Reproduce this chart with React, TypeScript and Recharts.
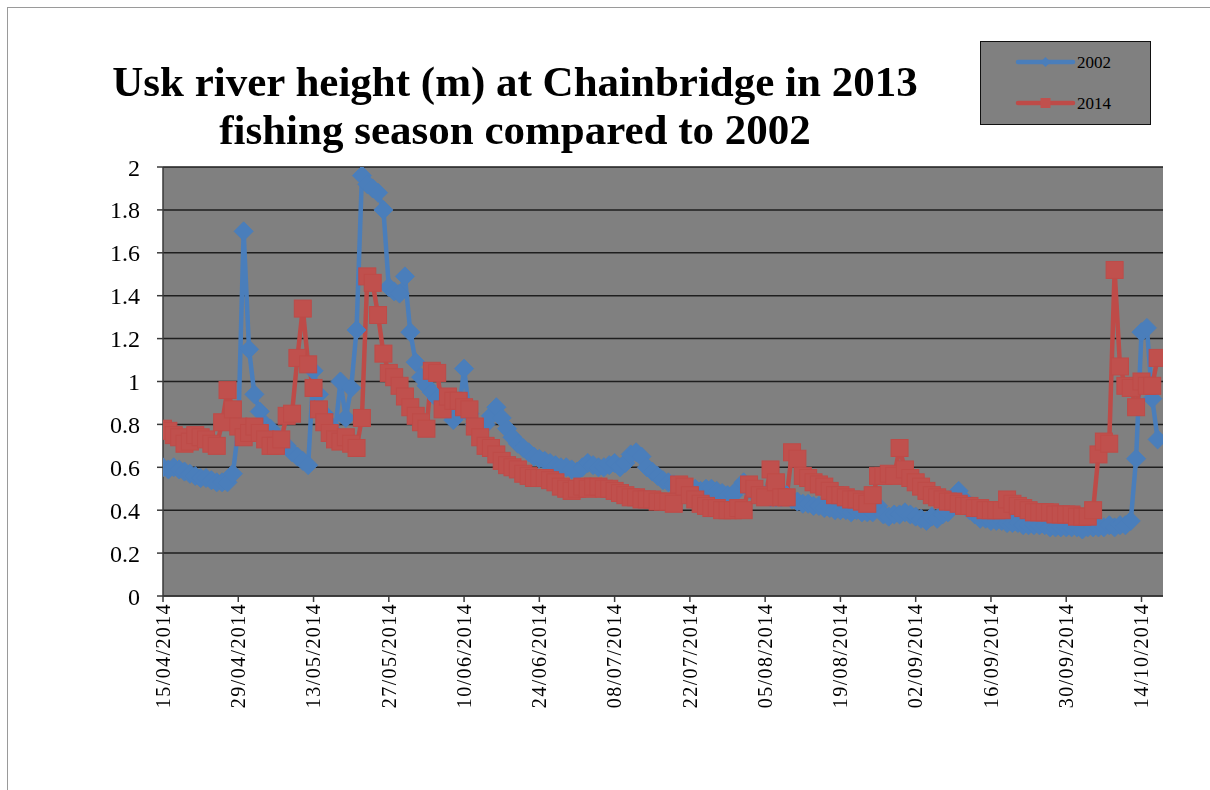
import React from 'react';
import { LineChart, Line, XAxis, YAxis, CartesianGrid } from 'recharts';

const series2002 = [
  0.60, 0.59, 0.60, 0.59, 0.58, 0.57, 0.56, 0.55, 0.55, 0.54,
  0.53, 0.53, 0.53, 0.57, 0.78, 1.70, 1.15, 0.94, 0.86, 0.80,
  0.78, 0.75, 0.72, 0.70, 0.67, 0.65, 0.63, 0.61, 1.05, 0.94,
  0.85, 0.80, 0.76, 1.00, 0.83, 0.97, 1.24, 1.96, 1.92, 1.90,
  1.88, 1.80, 1.44, 1.42, 1.41, 1.49, 1.23, 1.09, 1.02, 0.98,
  0.95, 0.92, 0.90, 0.86, 0.82, 0.85, 1.06, 0.85, 0.80, 0.78,
  0.80, 0.84, 0.88, 0.83, 0.78, 0.74, 0.71, 0.69, 0.67, 0.65,
  0.64, 0.63, 0.62, 0.61, 0.60, 0.60, 0.59, 0.58, 0.60, 0.62,
  0.61, 0.60, 0.60, 0.61, 0.62, 0.60, 0.62, 0.66, 0.67, 0.65,
  0.60, 0.58, 0.56, 0.54, 0.53, 0.52, 0.51, 0.50, 0.50, 0.50,
  0.49, 0.50, 0.50, 0.49, 0.48, 0.47, 0.47, 0.50, 0.53, 0.50,
  0.48, 0.47, 0.47, 0.46, 0.46, 0.46, 0.47, 0.45, 0.44, 0.43,
  0.43, 0.42, 0.42, 0.41, 0.41, 0.40, 0.40, 0.40, 0.39, 0.40,
  0.39, 0.39, 0.39, 0.42, 0.38, 0.37, 0.38, 0.38, 0.39, 0.38,
  0.37, 0.36, 0.35, 0.37, 0.36, 0.38, 0.39, 0.43, 0.49, 0.45,
  0.40, 0.38, 0.36, 0.36, 0.35, 0.35, 0.35, 0.34, 0.34, 0.34,
  0.33, 0.33, 0.33, 0.33, 0.33, 0.32, 0.32, 0.32, 0.32, 0.32,
  0.32, 0.31, 0.32, 0.32, 0.32, 0.32, 0.33, 0.32, 0.33, 0.33,
  0.35, 0.64, 1.23, 1.25, 0.92, 0.73,
];

const series2014 = [
  0.78, 0.77, 0.75, 0.74, 0.71, 0.72, 0.75, 0.74, 0.73, 0.71,
  0.70, 0.81, 0.96, 0.87, 0.79, 0.74, 0.76, 0.79, 0.76, 0.73,
  0.70, 0.70, 0.73, 0.84, 0.85, 1.11, 1.34, 1.08, 0.97, 0.87,
  0.81, 0.76, 0.73, 0.72, 0.74, 0.71, 0.69, 0.83, 1.49, 1.46,
  1.31, 1.13, 1.04, 1.02, 0.98, 0.93, 0.88, 0.84, 0.81, 0.78,
  1.05, 1.04, 0.87, 0.93, 0.91, 0.91, 0.88, 0.87, 0.79, 0.74,
  0.70, 0.69, 0.66, 0.63, 0.61, 0.60, 0.59, 0.57, 0.56, 0.55,
  0.55, 0.55, 0.54, 0.53, 0.51, 0.50, 0.49, 0.50, 0.51, 0.50,
  0.51, 0.51, 0.50, 0.50, 0.49, 0.48, 0.47, 0.46, 0.46, 0.45,
  0.45, 0.45, 0.44, 0.44, 0.44, 0.43, 0.52, 0.51, 0.47, 0.45,
  0.43, 0.42, 0.41, 0.41, 0.40, 0.40, 0.40, 0.41, 0.40, 0.52,
  0.50, 0.47, 0.46, 0.59, 0.53, 0.46, 0.46, 0.67, 0.64, 0.56,
  0.55, 0.53, 0.52, 0.51, 0.49, 0.47, 0.47, 0.46, 0.45, 0.45,
  0.44, 0.43, 0.47, 0.56, 0.56, 0.57, 0.56, 0.69, 0.59, 0.55,
  0.53, 0.51, 0.49, 0.47, 0.46, 0.45, 0.44, 0.44, 0.43, 0.42,
  0.42, 0.41, 0.41, 0.40, 0.40, 0.40, 0.40, 0.45, 0.43, 0.42,
  0.41, 0.40, 0.39, 0.39, 0.39, 0.39, 0.38, 0.38, 0.38, 0.38,
  0.37, 0.37, 0.37, 0.40, 0.66, 0.72, 0.71, 1.52, 1.07, 0.98,
  0.97, 0.88, 1.00, 0.98, 0.98, 1.11,
];

const xTickDays = [0, 14, 28, 42, 56, 70, 84, 98, 112, 126, 140, 154, 168, 182];
const xTickLabels = [
  '15/04/2014', '29/04/2014', '13/05/2014', '27/05/2014', '10/06/2014',
  '24/06/2014', '08/07/2014', '22/07/2014', '05/08/2014', '19/08/2014',
  '02/09/2014', '16/09/2014', '30/09/2014', '14/10/2014',
];
const yTickValues = [0, 0.2, 0.4, 0.6, 0.8, 1, 1.2, 1.4, 1.6, 1.8, 2];
const yTickLabels = ['0', '0.2', '0.4', '0.6', '0.8', '1', '1.2', '1.4', '1.6', '1.8', '2'];
const titleLines = ['Usk river height (m) at Chainbridge in 2013', 'fishing season compared to 2002'];
const seriesNames = ['2002', '2014'];

const data = series2002.map((v, i) => ({ day: i, y2002: v, y2014: series2014[i] }));

const BLUE = '#4A7EBB';
const RED = '#BE4B48';
const FONT = '"Liberation Serif", "Times New Roman", serif';

function Diamond(props: any) {
  const { cx, cy, index } = props;
  if (cx == null || cy == null) return <g key={`b${index}`} />;
  const r = 9.5;
  return (
    <polygon
      key={`b${index}`}
      points={`${cx},${cy - r} ${cx + r},${cy} ${cx},${cy + r} ${cx - r},${cy}`}
      fill={BLUE}
      stroke={BLUE}
      strokeWidth={1}
    />
  );
}

function Square(props: any) {
  const { cx, cy, index } = props;
  if (cx == null || cy == null) return <g key={`r${index}`} />;
  const h = 8.5;
  return (
    <rect key={`r${index}`} x={cx - h} y={cy - h} width={2 * h} height={2 * h} fill="#C0504D" stroke={RED} strokeWidth={1} />
  );
}

function XTick(props: any) {
  const { x, y, payload } = props;
  const label = xTickLabels[xTickDays.indexOf(payload.value)];
  const yy = y - 1;
  return (
    <text
      x={x}
      y={yy}
      transform={`rotate(-90 ${x} ${yy})`}
      textAnchor="end"
      dy="0.34em"
      fontSize={20}
      fontFamily={FONT}
      fill="#000"
      letterSpacing={1.4}
    >
      {label}
    </text>
  );
}

export default function App() {
  return (
    <div style={{ position: 'relative', width: 1194, height: 774, fontFamily: FONT }}>
      <div
        style={{
          position: 'fixed',
          left: 7,
          top: 7,
          right: 0,
          bottom: 0,
          borderTop: '1px solid #9a9a9a',
          borderLeft: '1px solid #9a9a9a',
          pointerEvents: 'none',
        }}
      />
      <LineChart
        width={1194}
        height={774}
        data={data}
        margin={{ top: 159, right: 39, bottom: 0, left: 0 }}
      >
        <CartesianGrid vertical={false} fill="#808080" fillOpacity={1} stroke="#1e1e1e" strokeWidth={1.5} />
        <XAxis
          dataKey="day"
          type="number"
          domain={[0, 186]}
          ticks={xTickDays}
          interval={0}
          height={186}
          tick={<XTick />}
          tickSize={6}
          tickMargin={2}
          axisLine={{ stroke: '#3a3a3a', strokeWidth: 1.5 }}
          tickLine={{ stroke: '#3a3a3a', strokeWidth: 1.5 }}
          allowDataOverflow
        />
        <YAxis
          type="number"
          domain={[0, 2]}
          ticks={yTickValues}
          interval={0}
          width={155}
          tickSize={6}
          tickMargin={17}
          tickFormatter={(v: number) => yTickLabels[yTickValues.indexOf(v)]}
          tick={{ fontSize: 24, fontFamily: FONT, fill: '#000' }}
          axisLine={{ stroke: '#3a3a3a', strokeWidth: 1.5 }}
          tickLine={{ stroke: '#3a3a3a', strokeWidth: 1.5 }}
          allowDataOverflow
        />
        <Line
          type="linear"
          dataKey="y2002"
          name={seriesNames[0]}
          stroke={BLUE}
          strokeWidth={4.5}
          strokeLinejoin="round"
          dot={Diamond}
          activeDot={false}
          isAnimationActive={false}
        />
        <Line
          type="linear"
          dataKey="y2014"
          name={seriesNames[1]}
          stroke={RED}
          strokeWidth={4.5}
          strokeLinejoin="round"
          dot={Square}
          activeDot={false}
          isAnimationActive={false}
        />
      </LineChart>
      <svg
        width={1194}
        height={160}
        style={{ position: 'absolute', left: 0, top: 0, pointerEvents: 'none' }}
      >
        <text x={507} y={88} textAnchor="middle" fontSize={43} fontWeight="bold" fontFamily={FONT} fill="#000">
          {titleLines[0]}
        </text>
        <text x={507} y={136} textAnchor="middle" fontSize={43} fontWeight="bold" fontFamily={FONT} fill="#000">
          {titleLines[1]}
        </text>
        <g transform="translate(972,33)">
          <rect x={0.5} y={0.5} width={170} height={83} fill="#808080" stroke="#111" strokeWidth={1} />
          <line x1={38} y1={21} x2={93} y2={21} stroke={BLUE} strokeWidth={4.5} strokeLinecap="round" />
          <polygon points="65.5,16 70.5,21 65.5,26 60.5,21" fill={BLUE} />
          <text x={97} y={21} dy="0.35em" fontSize={17} fontFamily={FONT} fill="#000">{seriesNames[0]}</text>
          <line x1={38} y1={62} x2={93} y2={62} stroke={RED} strokeWidth={4.5} strokeLinecap="round" />
          <rect x={60.5} y={57} width={10} height={10} fill="#C0504D" />
          <text x={97} y={62} dy="0.35em" fontSize={17} fontFamily={FONT} fill="#000">{seriesNames[1]}</text>
        </g>
      </svg>
    </div>
  );
}
